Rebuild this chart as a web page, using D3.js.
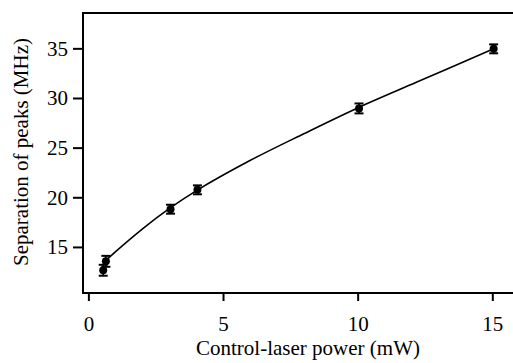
<!DOCTYPE html>
<html>
<head>
<meta charset="utf-8">
<script src="https://cdn.jsdelivr.net/npm/d3@7"></script>
<style>
  body { margin: 0; background: #fff; }
  svg text { font-family: "Liberation Serif", "Times New Roman", serif; fill: #000; }
</style>
</head>
<body>
<svg width="513" height="363"></svg>
<script>
// measured points
const power = [0.55, 0.65, 3.05, 4.05, 10.05, 15.05];
const separation = [12.65, 13.55, 18.8, 20.75, 28.95, 34.95];
const errors = [0.55, 0.55, 0.45, 0.45, 0.5, 0.45];

// fitted curve
const fitPower = [0.62, 1.0, 2.0, 3.0, 4.0, 6.0, 8.0, 10.0, 12.2, 15.05];
const fitSeparation = [13.55, 14.5, 16.8, 18.85, 20.65, 23.7, 26.4, 29.0, 31.6, 34.95];

const xTicks = [0, 5, 10, 15];
const yTicks = [15, 20, 25, 30, 35];

const xAxisLabel = 'Control-laser power (mW)';
const yAxisLabel = 'Separation of peaks (MHz)';

const svg = d3.select('svg');
const width = +svg.attr('width');
const fontSize = 21;

const plot = { left: 83, top: 13, right: 512.5, bottom: 293 };

const xScale = d3.scaleLinear()
    .domain([-0.2, 15.75])
    .range([plot.left, plot.right]);

const yScale = d3.scaleLinear()
    .domain([10.36, 38.56])
    .range([plot.bottom, plot.top]);

const render = () => {
    const xAxis = d3.axisBottom(xScale)
        .tickValues(xTicks)
        .tickSizeInner(8)
        .tickSizeOuter(0)
        .tickPadding(15)
        .tickFormat(d3.format('d'));
    const xAxisG = svg.append('g')
        .attr('transform', `translate(0, ${plot.bottom})`)
        .call(xAxis);
    xAxisG.select('.domain').remove();
    xAxisG.selectAll('line').attr('stroke', '#000').attr('stroke-width', 2);
    xAxisG.selectAll('text')
        .attr('font-size', fontSize)
        .style('font-family', '"Liberation Serif", serif');

    const yAxis = d3.axisLeft(yScale)
        .tickValues(yTicks)
        .tickSizeInner(10)
        .tickSizeOuter(0)
        .tickPadding(5)
        .tickFormat(d3.format('d'));
    const yAxisG = svg.append('g')
        .attr('transform', `translate(${plot.left}, 0)`)
        .call(yAxis);
    yAxisG.select('.domain').remove();
    yAxisG.selectAll('line').attr('stroke', '#000').attr('stroke-width', 2);
    yAxisG.selectAll('text')
        .attr('font-size', fontSize)
        .style('font-family', '"Liberation Serif", serif');

    // frame: left, top, bottom (right side runs off the page)
    svg.append('path')
        .attr('d', `M${width},${plot.top}H${plot.left}V${plot.bottom}H${width}`)
        .attr('fill', 'none')
        .attr('stroke', '#000')
        .attr('stroke-width', 2);

    // fit curve
    const line = d3.line()
        .x((d, i) => xScale(fitPower[i]))
        .y(d => yScale(d))
        .curve(d3.curveCatmullRom);
    svg.append('path')
        .attr('d', line(fitSeparation))
        .attr('fill', 'none')
        .attr('stroke', '#000')
        .attr('stroke-width', 1.6);

    const points = power.map((p, i) => ({ x: p, y: separation[i], e: errors[i] }));

    const bars = svg.append('g').attr('stroke', '#000').attr('stroke-width', 1.6);
    points.forEach(d => {
        const cx = xScale(d.x);
        const y0 = yScale(d.y - d.e);
        const y1 = yScale(d.y + d.e);
        bars.append('line').attr('x1', cx).attr('x2', cx).attr('y1', y0).attr('y2', y1);
        bars.append('line').attr('x1', cx - 4.5).attr('x2', cx + 4.5).attr('y1', y0).attr('y2', y0).attr('stroke-width', 2);
        bars.append('line').attr('x1', cx - 4.5).attr('x2', cx + 4.5).attr('y1', y1).attr('y2', y1).attr('stroke-width', 2);
    });

    svg.append('g').selectAll('circle')
        .data(points)
        .join('circle')
        .attr('cx', d => xScale(d.x))
        .attr('cy', d => yScale(d.y))
        .attr('r', 4)
        .attr('fill', '#000');

    svg.append('text')
        .attr('x', 308)
        .attr('y', 355)
        .attr('text-anchor', 'middle')
        .attr('font-size', fontSize)
        .text(xAxisLabel);

    svg.append('text')
        .attr('transform', 'rotate(-90)')
        .attr('x', -152)
        .attr('y', 28)
        .attr('text-anchor', 'middle')
        .attr('font-size', fontSize)
        .text(yAxisLabel);
};

render();
</script>
</body>
</html>
